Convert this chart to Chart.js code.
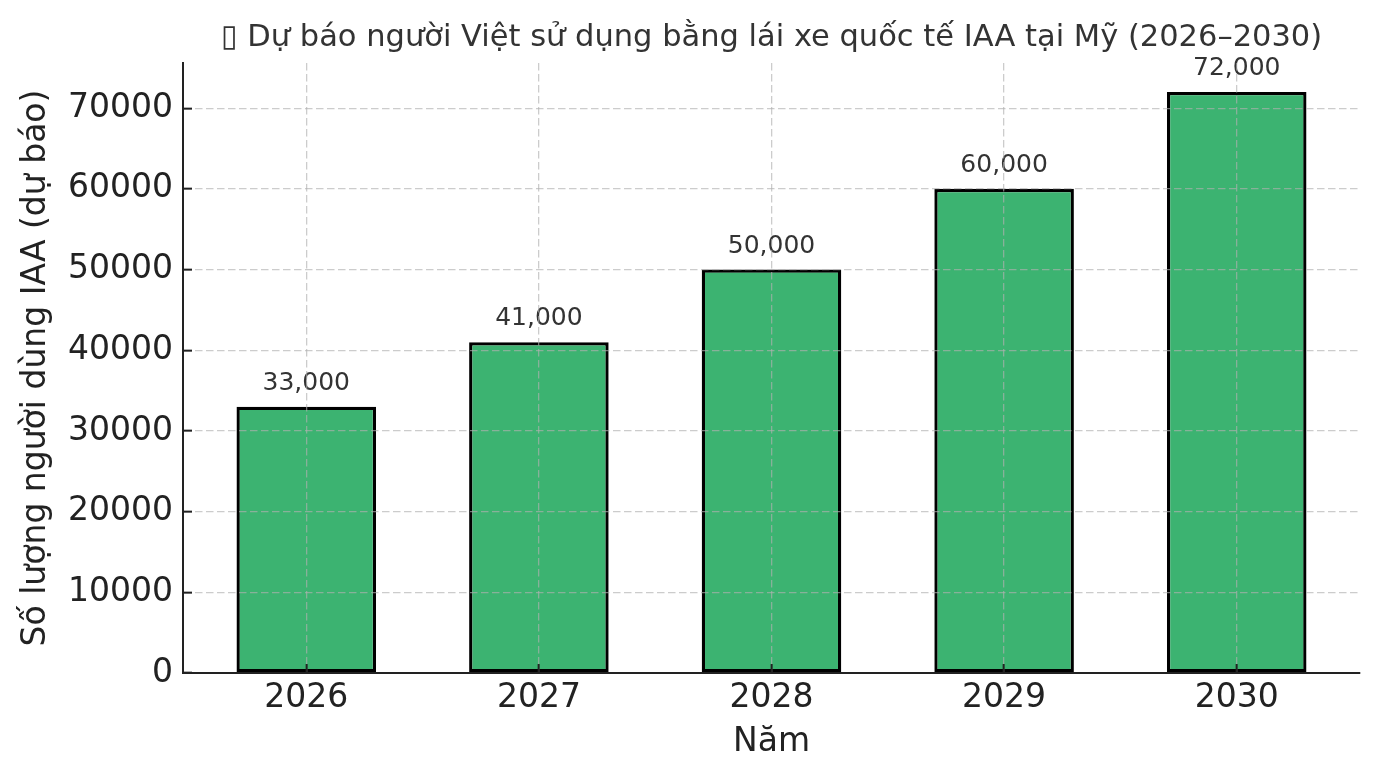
<!DOCTYPE html>
<html>
<head>
<meta charset="utf-8">
<script src="https://cdn.jsdelivr.net/npm/chart.js@4/dist/chart.umd.min.js"></script>
<style>
  html, body { margin: 0; padding: 0; background: #fff; }
  #wrap { width: 1380px; height: 780px; position: relative; }
</style>
</head>
<body>
<div id="wrap"><canvas id="iaaChart"></canvas></div>
<script>
// values
const years = ["2026", "2027", "2028", "2029", "2030"];
const users = [33000, 41000, 50000, 60000, 72000];
const yTicks = [0, 10000, 20000, 30000, 40000, 50000, 60000, 70000];

const FONT = "'DejaVu Sans', sans-serif";

// numbers above the bars
const barLabels = {
    id: "barLabels",
    afterDatasetsDraw(chart) {
        const ctx = chart.ctx;
        const meta = chart.getDatasetMeta(0);
        ctx.save();
        ctx.font = "25px " + FONT;
        ctx.fillStyle = "#333";
        ctx.textAlign = "center";
        ctx.textBaseline = "alphabetic";
        meta.data.forEach((bar, i) => {
            ctx.fillText(users[i].toLocaleString("en-US"), bar.x, bar.y - 17);
        });
        ctx.restore();
    }
};

const gridStyle = {
    z: 1,
    offset: false,
    color: "rgba(176,176,176,0.65)",
    lineWidth: 1.3,
    drawTicks: true,
    tickLength: -9,
    tickColor: "#222",
    tickWidth: 2
};

const borderStyle = { display: true, color: "#222", width: 2, z: 2, dash: [7.5, 3.5] };

new Chart(document.getElementById("iaaChart"), {
    type: "bar",
    data: {
        datasets: [{
            data: users.map((v, i) => ({ x: i, y: v })),
            backgroundColor: "#3cb371",
            borderColor: "#000",
            borderWidth: 3.3,
            borderSkipped: false,
            barPercentage: 0.6,
            categoryPercentage: 1.0
        }]
    },
    options: {
        responsive: true,
        maintainAspectRatio: false,
        animation: false,
        devicePixelRatio: 1,
        layout: { padding: { top: 0, right: 20, bottom: 0, left: 0 } },
        plugins: {
            legend: { display: false },
            tooltip: { enabled: false },
            title: {
                display: true,
                fullSize: false,
                text: "▯ Dự báo người Việt sử dụng bằng lái xe quốc tế IAA tại Mỹ (2026–2030)",
                color: "#333",
                font: { family: FONT, size: 30.5, weight: "normal", lineHeight: 1.2 },
                padding: { top: 20, bottom: 6.4 }
            }
        },
        scales: {
            x: {
                type: "linear",
                offset: false,
                min: -0.53,
                max: 4.53,
                afterBuildTicks: (scale) => {
                    scale.ticks = years.map((y, i) => ({ value: i }));
                },
                afterFit: (scale) => { scale.height = 107; },
                ticks: {
                    color: "#222",
                    font: { family: FONT, size: 33 },
                    padding: 15,
                    maxRotation: 0,
                    callback: (v) => years[v]
                },
                grid: gridStyle,
                border: borderStyle,
                title: {
                    display: true,
                    text: "Năm",
                    color: "#222",
                    font: { family: FONT, size: 33, lineHeight: 1.2 },
                    padding: { top: 0, bottom: 18 }
                }
            },
            y: {
                min: 0,
                max: 75600,
                afterBuildTicks: (scale) => {
                    scale.ticks = yTicks.map(v => ({ value: v }));
                },
                afterFit: (scale) => { scale.width = 183; },
                ticks: {
                    color: "#222",
                    font: { family: FONT, size: 33 },
                    padding: 19,
                    callback: (v) => String(v)
                },
                grid: gridStyle,
                border: borderStyle,
                title: {
                    display: true,
                    text: "Số lượng người dùng IAA (dự báo)",
                    color: "#222",
                    font: { family: FONT, size: 33, lineHeight: 1.2 },
                    padding: { top: 17, bottom: 0 }
                }
            }
        }
    },
    plugins: [barLabels]
});
</script>
</body>
</html>
